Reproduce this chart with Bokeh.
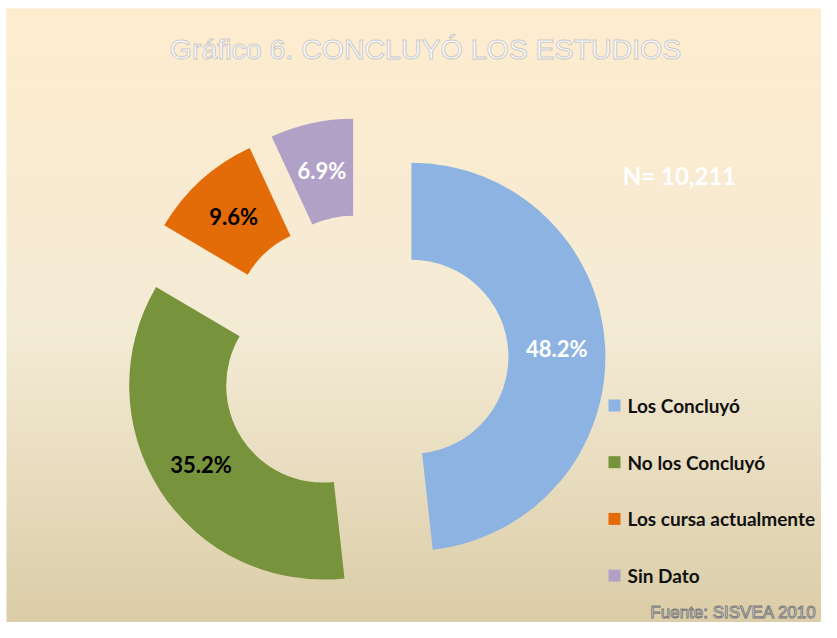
import numpy as np
from bokeh.plotting import figure
from bokeh.models import Range1d
from bokeh.core.properties import value
from bokeh.embed import file_html
from bokeh.resources import INLINE

# ---- data ----
categories = ["Los Concluyó", "No los Concluyó", "Los cursa actualmente", "Sin Dato"]
percentages = [48.2, 35.2, 9.6, 6.9]
slice_colors = ["#8DB3E2", "#77933C", "#E36C09", "#B2A1C7"]
label_colors = ["white", "black", "black", "white"]
title_text = "Gráfico 6. CONCLUYÓ LOS ESTUDIOS"
n_text = "N= 10,211"
source_text = "Fuente: SISVEA 2010"

# ---- layout (pixel-like data units, y up) ----
W, H = 821, 622
TOP = 638


def Y(y):
    return TOP - y


p = figure(width=W, height=H, x_range=Range1d(0, W), y_range=Range1d(TOP - H, TOP),
           output_backend="svg", toolbar_location=None, x_axis_type=None, y_axis_type=None,
           min_border=0)
p.outline_line_color = None
p.grid.visible = False
p.background_fill_color = "white"
p.border_fill_color = "white"

# ---- background gradient (chart area) ----
BG_X0, BG_Y0 = 6, 8
stops_y = np.array([8, 330, 630], dtype=float)  # reference y (down)
stops_c = np.array([[254, 236, 206], [244, 235, 213], [218, 204, 166]], dtype=float)
rows = H - BG_Y0
img = np.empty((rows, 2), dtype=np.uint32)
view = img.view(dtype=np.uint8).reshape((rows, 2, 4))
for i in range(rows):
    ref_y = H - (i + 0.5)
    for c in range(3):
        view[i, :, c] = int(round(np.interp(ref_y, stops_y, stops_c[:, c])))
    view[i, :, 3] = 255
p.image_rgba(image=[img], x=BG_X0, y=Y(H), dw=W - BG_X0, dh=rows)

# ---- donut ----
CX, CY = 363, Y(359)
R_OUT, R_IN = 194, 97
EXPLODE = 48
vals = np.array(percentages, dtype=float)
frac = vals / vals.sum()
cum = np.concatenate([[0.0], np.cumsum(frac)]) * 2 * np.pi
th1, th2 = cum[:-1], cum[1:]
mid = (th1 + th2) / 2
cx = CX + EXPLODE * np.sin(mid)
cy = CY + EXPLODE * np.cos(mid)
p.annular_wedge(x=list(cx), y=list(cy), inner_radius=R_IN, outer_radius=R_OUT,
                start_angle=list(np.pi / 2 - th2), end_angle=list(np.pi / 2 - th1),
                fill_color=slice_colors, line_color=None, direction="anticlock")

R_LAB = (R_OUT + R_IN) / 2
lx = cx + R_LAB * np.sin(mid)
ly = cy + R_LAB * np.cos(mid)
p.text(x=list(lx), y=list(ly), text=[f"{v:.1f}%" for v in percentages],
       text_font=value("Lato"), text_font_style="bold", text_font_size="22px",
       text_color=label_colors, text_align="center", text_baseline="middle")

# ---- legend ----
LEG_X, LEG_Y0, LEG_STEP = 614, 405, 56.7
leg_y = [Y(LEG_Y0 + i * LEG_STEP) for i in range(len(categories))]
p.rect(x=[LEG_X] * len(categories), y=leg_y, width=12, height=12,
       fill_color=slice_colors, line_color=None)
p.text(x=[LEG_X + 13] * len(categories), y=leg_y, text=categories,
       text_font=value("Lato"), text_font_style="bold", text_font_size="19px",
       text_color="#111111", text_align="left", text_baseline="middle")

# ---- title and notes ----
p.text(x=[425], y=[Y(48)], text=[title_text], text_font=value("Liberation Sans"),
       text_font_size="28.5px", text_color="white", text_outline_color="#CACACA",
       text_align="center", text_baseline="middle")
p.text(x=[679], y=[Y(175)], text=[n_text], text_font=value("Lato"), text_font_style="bold",
       text_font_size="24px", text_color="white",
       text_align="center", text_baseline="middle")
p.text(x=[733], y=[Y(612)], text=[source_text], text_font=value("Liberation Sans"),
       text_font_size="17px", text_color="white", text_outline_color="#7A7A7A",
       text_align="center", text_baseline="middle")

open("out.html", "w").write(file_html(p, INLINE))
